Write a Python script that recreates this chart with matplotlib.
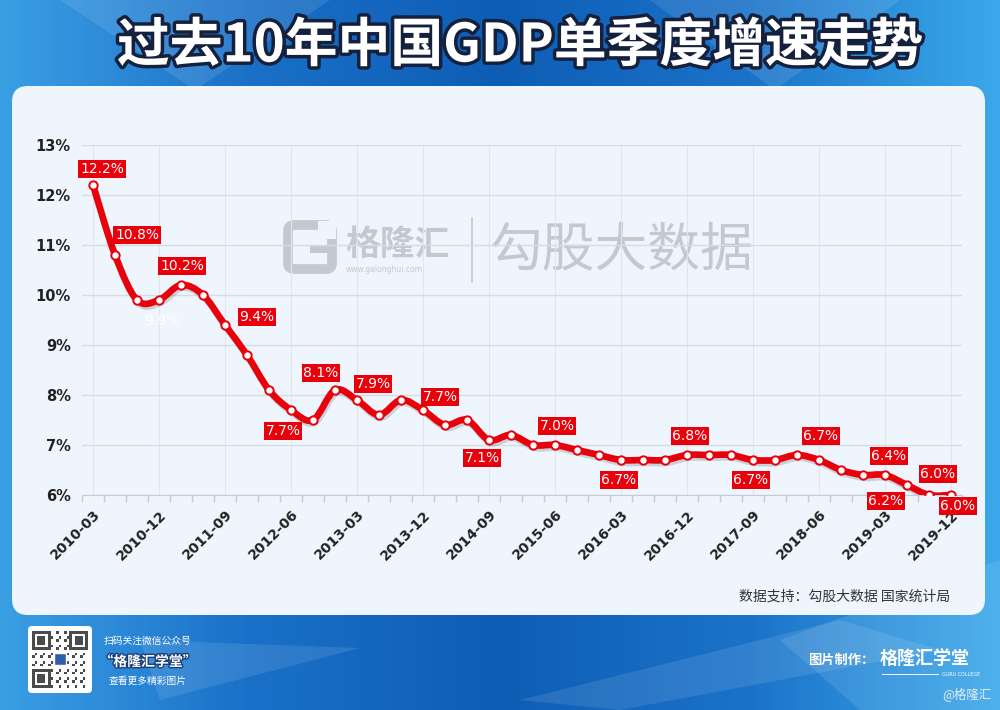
import numpy as np
import matplotlib
matplotlib.use("Agg")
import matplotlib.pyplot as plt
import matplotlib.patheffects as pe
from matplotlib.colors import LinearSegmentedColormap
from matplotlib.patches import FancyBboxPatch, Polygon, PathPatch, Rectangle
from matplotlib.path import Path

plt.rcParams["font.family"] = ["Noto Sans CJK SC", "DejaVu Sans"]

# quarterly GDP growth, %, 2010Q1 .. 2019Q4
YEARS = list(range(2010, 2020))
MONTHS = ["03", "06", "09", "12"]
QUARTERS = [f"{y}-{m}" for y in YEARS for m in MONTHS]
GROWTH = [12.2, 10.8, 9.9, 9.9, 10.2, 10.0, 9.4, 8.8,
          8.1, 7.7, 7.5, 8.1, 7.9, 7.6, 7.9, 7.7,
          7.4, 7.5, 7.1, 7.2, 7.0, 7.0, 6.9, 6.8,
          6.7, 6.7, 6.7, 6.8, 6.8, 6.8, 6.7, 6.7,
          6.8, 6.7, 6.5, 6.4, 6.4, 6.2, 6.0, 6.0]
Y_TICKS = [6, 7, 8, 9, 10, 11, 12, 13]

# which points get a value tag, and where the tag sits (pixels right / down)
LABEL_IDX = [0, 1, 3, 4, 6, 9, 11, 12, 15, 18, 21, 24, 27, 30, 33, 36, 37, 38, 39]
LABEL_OFF = [(9, -16), (22, -20), (3, 21), (1, -19), (32, -8), (-8, 21),
             (-14, -17), (16, -16), (17, -13), (-7, 18), (2, -19), (-2, 20),
             (3, -19), (-2, 20), (2, -24), (4, -19), (-21, 16), (9, -21), (7, 11)]

RED = "#e8000b"
PANEL = "#eef5fc"
W, H = 1000, 710

fig = plt.figure(figsize=(W / 100, H / 100), dpi=100)

# ---- background layer in pixel coords (y down)
bg = fig.add_axes([0, 0, 1, 1], zorder=-10)
bg.set_xlim(0, W)
bg.set_ylim(H, 0)
bg.axis("off")
blue = LinearSegmentedColormap.from_list(
    "bg", ["#3b9fe4", "#1a70c8", "#0e5db5", "#1b73c9", "#3aa8ea"])
bg.imshow(np.linspace(0, 1, 256)[None, :], cmap=blue, aspect="auto",
          extent=(0, W, H, 0), zorder=0)
for poly in [[(60, 0), (330, 0), (195, 90)], [(650, 0), (900, 0), (775, 90)],
             [(520, 700), (840, 620), (940, 650), (620, 710)],
             [(140, 640), (360, 648), (160, 700)],
             [(780, 640), (1000, 560), (1000, 710), (860, 710)]]:
    bg.add_patch(Polygon(poly, closed=True, fc="white", ec="none", alpha=0.10, zorder=1))

bg.add_patch(FancyBboxPatch((12, 86), 973, 529, boxstyle="round,pad=0,rounding_size=16",
                            fc=PANEL, ec="none", zorder=2))

bg.text(520, 46, "过去10年中国GDP单季度增速走势", fontsize=38, weight="bold",
        color="white", ha="center", va="center", zorder=5,
        path_effects=[pe.withStroke(linewidth=5, foreground="#15203c")])

# watermark
wm = "#c3c9d0"
bg.add_patch(FancyBboxPatch((288, 225), 44, 44, boxstyle="round,pad=0,rounding_size=6",
                            fc="none", ec=wm, lw=7, zorder=3))
bg.add_patch(Rectangle((318, 221), 18, 18, fc=PANEL, ec="none", zorder=3))
bg.add_patch(Rectangle((310, 245), 26, 8, fc=wm, ec="none", zorder=3))
bg.text(345, 244, "格隆汇", fontsize=25, color=wm, ha="left", va="center",
        weight="bold", zorder=3)
bg.text(346, 270, "www.gelonghui.com", fontsize=5.5, color=wm, ha="left", va="center",
        family="DejaVu Sans", zorder=3)
bg.plot([472, 472], [218, 282], color=wm, lw=1.2, zorder=3)
bg.text(490, 250, "勾股大数据", fontsize=38, color=wm, ha="left", va="center",
        zorder=3)

bg.text(950, 597, "数据支持：勾股大数据 国家统计局", fontsize=10, color="#333333",
        ha="right", va="center", weight="medium", zorder=3)

# footer: qr block + captions
bg.add_patch(FancyBboxPatch((28, 626), 64, 67, boxstyle="round,pad=0,rounding_size=4",
                            fc="white", ec="none", zorder=3))
gi, gj = np.mgrid[0:21, 0:21]
qr = ((gi * gj + gi + 2 * gj) % 3 == 0).astype(float)
for r0, c0 in [(0, 0), (0, 14), (14, 0)]:
    qr[r0:r0 + 7, c0:c0 + 7] = 1
    qr[r0 + 1:r0 + 6, c0 + 1:c0 + 6] = 0
    qr[r0 + 2:r0 + 5, c0 + 2:c0 + 5] = 1
bg.imshow(qr, cmap="Greys", vmin=0, vmax=1.3, extent=(32, 88, 688, 631),
          interpolation="nearest", zorder=4)
bg.add_patch(Rectangle((54, 653), 12, 12, fc="#2e5fa8", ec="white", lw=1, zorder=5))
bg.text(148, 641, "扫码关注微信公众号", fontsize=7, color="white", ha="center", va="center")
bg.text(148, 662, "“格隆汇学堂”", fontsize=10, color="white", weight="bold",
        ha="center", va="center", style="italic",
        path_effects=[pe.withStroke(linewidth=2, foreground="#1a3f7a")])
bg.text(148, 681, "查看更多精彩图片", fontsize=7, color="white", ha="center", va="center")

bg.text(808, 660, "图片制作：", fontsize=9.5, color="white", weight="bold",
        ha="left", va="center")
bg.text(880, 658, "格隆汇学堂", fontsize=13, color="white", weight="bold",
        ha="left", va="center")
bg.plot([882, 938], [674, 674], color="white", lw=0.7)
bg.text(942, 674, "GURU COLLEGE", fontsize=3.5, color="white", ha="left",
        va="center", family="DejaVu Sans")
bg.text(992, 694, "@格隆汇", fontsize=9, color="#e6eef8", ha="right", va="center")

# ---- chart
ax = fig.add_axes([82 / W, 1 - 495 / H, 880 / W, 350 / H])
ax.set_facecolor("none")
n = len(GROWTH)
x = np.arange(n)
y = np.array(GROWTH)

# smooth line through the points (cubic bezier, catmull-rom tangents)
verts = [(x[0], y[0])]
codes = [Path.MOVETO]
k = 1 / 6
for i in range(n - 1):
    a = max(i - 1, 0)
    b = min(i + 2, n - 1)
    c1 = (x[i] + (x[i + 1] - x[a]) * k, y[i] + (y[i + 1] - y[a]) * k)
    c2 = (x[i + 1] - (x[b] - x[i]) * k, y[i + 1] - (y[b] - y[i]) * k)
    verts += [c1, c2, (x[i + 1], y[i + 1])]
    codes += [Path.CURVE4] * 3
ax.add_patch(PathPatch(Path(verts, codes), fill=False, ec=RED, lw=4.8, zorder=3,
                       capstyle="round", joinstyle="round",
                       path_effects=[pe.SimpleLineShadow(offset=(1, -2), alpha=0.15),
                                     pe.Normal()]))
ax.plot(x, y, "o", ms=6, mfc="white", mec=RED, mew=1.4, zorder=4)

for idx, (dx, dy) in zip(LABEL_IDX, LABEL_OFF):
    txt = f"{GROWTH[idx]:.1f}%"
    if idx == 3:
        # this one has no tag box in the original, just white text
        ax.annotate(txt, (idx, GROWTH[idx]), xytext=(dx, -dy), textcoords="offset pixels",
                    ha="center", va="center", color="white", fontsize=10,
                    family="DejaVu Sans", zorder=5)
    else:
        ax.annotate(txt, (idx, GROWTH[idx]), xytext=(dx, -dy), textcoords="offset pixels",
                    ha="center", va="center", color="white", fontsize=10,
                    family="DejaVu Sans", zorder=6,
                    bbox=dict(boxstyle="square,pad=0.12", fc=RED, ec="none"))

ax.set_xlim(-0.5, n - 0.5)
ax.set_ylim(6, 13)
ax.set_yticks(Y_TICKS)
ax.set_yticklabels([f"{v}%" for v in Y_TICKS], fontsize=10.5, weight="bold",
                   family="DejaVu Sans", color="#222222")
ax.set_xticks(x[::3])
ax.set_xticklabels(QUARTERS[::3], rotation=45, ha="right", va="top",
                   rotation_mode="anchor", fontsize=10, weight="bold",
                   family="DejaVu Sans", color="#222222")
ax.set_xticks(np.arange(-0.5, n, 1), minor=True)
ax.tick_params(axis="x", which="major", length=0, pad=9)
ax.tick_params(axis="x", which="minor", length=5, color="#c5ccd4", width=1)
ax.tick_params(axis="y", length=0, pad=8)
ax.grid(axis="y", color="#d6dce3", lw=1)
ax.grid(axis="x", which="major", color="#e0e5ea", lw=0.8)
ax.set_axisbelow(True)
for s in ["top", "right", "left"]:
    ax.spines[s].set_visible(False)
ax.spines["bottom"].set_color("#c5ccd4")

fig.savefig("out.png", dpi=100)
